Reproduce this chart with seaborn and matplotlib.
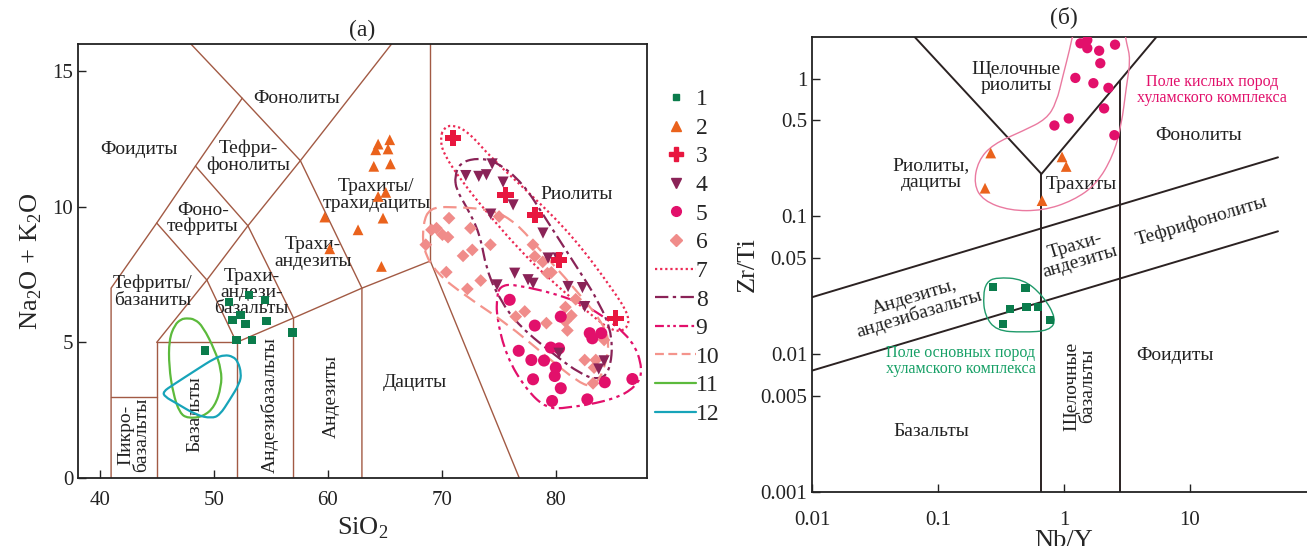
import numpy as np
import pandas as pd
import matplotlib
matplotlib.use('Agg')
import matplotlib.pyplot as plt
import seaborn as sns
from matplotlib.path import Path
from matplotlib.patches import PathPatch
from matplotlib.lines import Line2D

# ---------------- (а) TAS diagram data ----------------
g1_sio2 = [51.34, 53.07, 54.47, 51.64, 52.34, 52.78, 54.62, 56.90, 51.99, 53.36, 49.24]
g1_alk = [6.48, 6.75, 6.57, 5.83, 6.00, 5.67, 5.79, 5.36, 5.09, 5.10, 4.70]

g2_sio2 = [65.44, 64.42, 65.29, 64.21, 65.50, 64.04, 65.09, 64.42, 59.74, 64.85, 62.66, 60.18, 64.71]
g2_alk = [12.47, 12.31, 12.13, 12.10, 11.58, 11.49, 10.53, 10.38, 9.62, 9.58, 9.15, 8.45, 7.80]

g3_sio2 = [70.99, 75.61, 78.16, 80.29, 85.23]
g3_alk = [12.53, 10.44, 9.70, 8.04, 5.89]

g4_sio2 = [74.42, 72.11, 73.25, 73.92, 75.38, 76.26, 74.30, 78.88, 79.33, 80.20,
           76.40, 77.57, 78.01, 74.85, 81.08, 82.34, 82.54, 80.29, 84.24, 83.77]
g4_alk = [11.58, 11.15, 11.12, 11.18, 10.91, 10.07, 9.73, 9.03, 8.11, 8.11,
          7.55, 7.31, 7.18, 7.12, 7.06, 7.02, 6.32, 4.60, 4.32, 4.02]

g5_sio2 = [75.96, 78.16, 80.44, 82.98, 83.21, 84.00, 76.75, 79.56, 80.29, 77.86,
           78.97, 80.00, 79.91, 78.01, 84.30, 86.72, 80.44, 82.77, 79.68]
g5_alk = [6.57, 5.62, 5.95, 5.34, 5.15, 5.34, 4.69, 4.81, 4.78, 4.35,
          4.33, 4.07, 3.76, 3.64, 3.53, 3.65, 3.31, 2.90, 2.84]

g6_sio2 = [70.64, 69.10, 69.54, 70.06, 70.55, 68.60, 72.52, 72.68, 71.87, 74.27, 75.03,
           70.40, 73.42, 72.25, 78.00, 78.16, 78.86, 79.27, 79.62, 81.75, 80.85, 76.49,
           77.28, 81.37, 79.18, 80.85, 81.02, 84.24, 82.54, 83.51, 83.36, 83.27]
g6_alk = [9.58, 9.15, 9.21, 8.97, 8.88, 8.60, 9.21, 8.41, 8.19, 8.60, 9.64,
          7.59, 7.28, 6.97, 8.60, 8.17, 7.97, 7.55, 7.58, 6.59, 6.30, 5.95,
          6.14, 5.99, 5.71, 5.77, 5.44, 5.09, 4.35, 4.35, 4.07, 3.49]

# outlines 7-12 (outline vertices)
f7_sio2 = [70.11, 70.70, 72.17, 74.50, 78.01, 81.52, 85.03, 86.49, 86.20, 85.03, 83.27,
           79.18, 76.84, 74.50, 71.87, 70.11, 69.88]
f7_alk = [12.84, 13.03, 12.84, 11.73, 10.38, 8.90, 6.94, 5.95, 5.46, 5.40, 5.95,
          7.43, 8.41, 9.52, 10.87, 11.98, 12.53]
f8_sio2 = [71.14, 71.58, 73.04, 74.80, 77.13, 79.18, 81.81, 83.86, 85.03, 84.74, 83.57,
           82.11, 80.06, 76.84, 75.09, 73.92, 73.33, 72.16, 71.28]
f8_alk = [11.12, 11.61, 11.80, 11.67, 10.87, 9.52, 7.80, 6.45, 5.21, 3.86, 3.62,
          3.86, 4.48, 5.58, 6.57, 7.68, 9.03, 10.01, 10.63]
f9_sio2 = [75.09, 76.25, 80.94, 83.86, 86.78, 87.66, 87.08, 85.03, 80.94, 79.18, 77.43,
           75.67, 74.80, 74.85]
f9_alk = [7.06, 7.16, 6.69, 6.08, 5.09, 3.99, 3.37, 2.88, 2.57, 2.57, 3.25,
          4.48, 5.95, 6.69]
f10_sio2 = [68.95, 70.70, 74.50, 76.55, 78.60, 81.52, 84.15, 84.74, 84.15, 83.27, 82.11,
            79.18, 75.67, 72.16, 69.54, 68.36, 68.36]
f10_alk = [9.95, 10.01, 9.89, 9.40, 8.41, 7.06, 5.71, 4.97, 3.86, 3.37, 3.49,
           4.48, 5.71, 6.69, 7.55, 8.41, 9.40]
f11_sio2 = [47.61, 48.33, 49.06, 50.09, 50.67, 50.67, 50.09, 49.06, 47.74, 47.02, 46.43,
            46.08, 46.08, 46.58, 47.16]
f11_alk = [5.89, 5.86, 5.58, 4.72, 3.99, 3.37, 2.63, 2.26, 2.20, 2.39, 3.13,
           4.11, 5.09, 5.65, 5.86]
f12_sio2 = [50.96, 51.69, 52.13, 52.42, 52.28, 51.40, 50.53, 49.80, 48.48, 46.72, 45.70,
            45.55, 46.42, 48.48, 50.09]
f12_alk = [4.54, 4.48, 4.29, 3.86, 3.49, 2.88, 2.32, 2.20, 2.32, 2.76, 3.00,
           3.18, 3.43, 3.99, 4.42]

# TAS field boundaries
tas_lines = [
    [(41, 0), (41, 7), (45, 9.4), (48.4, 11.5), (52.5, 14), (48, 16)],
    [(41, 3), (45, 3)],
    [(45, 0), (45, 5), (52, 5), (52, 0)],
    [(45, 5), (49.4, 7.3), (45, 9.4)],
    [(49.4, 7.3), (52, 5)],
    [(49.4, 7.3), (53, 9.3), (48.4, 11.5)],
    [(53, 9.3), (57, 5.9), (57, 0)],
    [(52, 5), (57, 5.9), (63, 7), (69, 8)],
    [(53, 9.3), (57.6, 11.7), (52.5, 14)],
    [(57.6, 11.7), (63, 7), (63, 0)],
    [(57.6, 11.7), (65.6, 16)],
    [(69, 8), (69, 16)],
    [(69, 8), (76.8, 0)],
]
tas_labels = [
    ('Фонолиты', 57.25, 13.99, 0), ('Фоидиты', 43.45, 12.10, 0),
    ('Тефри-\nфонолиты', 53.0, 11.83, 0), ('Фоно-\nтефриты', 49.06, 9.57, 0),
    ('Трахиты/\nтрахидациты', 64.27, 10.44, 0), ('Трахи-\nандезиты', 58.71, 8.29, 0),
    ('Тефриты/\nбазаниты', 44.65, 6.87, 0), ('Трахи-\nандези-\nбазальты', 53.3, 6.84, 0),
    ('Пикро-\nбазальты', 43.0, 1.59, 90), ('Базальты', 48.33, 2.36, 90),
    ('Андезибазальты', 54.9, 2.69, 90), ('Андезиты', 60.3, 3.0, 90),
    ('Дациты', 67.63, 3.51, 0), ('Риолиты', 81.81, 10.44, 0),
]

# ---------------- (б) Zr/Ti vs Nb/Y data ----------------
r_circ_nby = [1.35, 1.53, 1.53, 1.90, 2.54, 1.94, 1.23, 1.71, 2.25, 2.08, 1.09, 0.839, 2.51]
r_circ_zrti = [1.80, 1.90, 1.66, 1.59, 1.76, 1.29, 1.01, 0.925, 0.855, 0.607, 0.513, 0.456, 0.388]
r_tri_nby = [0.262, 0.964, 1.04, 0.236, 0.669]
r_tri_zrti = [0.288, 0.270, 0.230, 0.160, 0.130]
r_sq_nby = [0.273, 0.494, 0.371, 0.503, 0.622, 0.770, 0.328]
r_sq_zrti = [0.0306, 0.0301, 0.0213, 0.0221, 0.0219, 0.0177, 0.0166]

acid_nby = [1.20, 3.00, 3.13, 3.37, 3.13, 2.85, 2.45, 1.81, 1.18, 0.681, 0.371, 0.228, 0.192,
            0.208, 0.273, 0.473, 0.725, 0.871, 0.98, 1.11]
acid_zrti = [2.3, 2.3, 1.82, 1.38, 0.883, 0.454, 0.275, 0.171, 0.130, 0.110, 0.110, 0.130,
             0.171, 0.253, 0.334, 0.417, 0.507, 0.670, 1.045, 1.63]
basic_nby = [0.290, 0.473, 0.681, 0.871, 0.770, 0.473, 0.290, 0.235, 0.228, 0.242]
basic_zrti = [0.0361, 0.0351, 0.0266, 0.0180, 0.0148, 0.0144, 0.0148, 0.0191, 0.0266, 0.0333]

wf_lines = [
    [(0.0653, 2.0), (0.662, 0.203), (5.41, 2.0)],
    [(0.662, 0.203), (0.662, 0.001)],
    [(2.77, 0.96), (2.77, 0.001)],
    [(0.01, 0.0259), (49.9, 0.268)],
    [(0.01, 0.0076), (49.9, 0.0779)],
]
wf_labels = [
    ('Щелочные\nриолиты', 0.419, 1.02, 0), ('Риолиты,\nдациты', 0.0887, 0.203, 0),
    ('Трахиты', 1.374, 0.169, 0), ('Фонолиты', 11.6, 0.388, 0),
    ('Тефрифонолиты', 12.3, 0.0929, 16.7), ('Трахи-\nандезиты', 1.285, 0.0533, 16.7),
    ('Андезиты,\nандезибазальты', 0.0674, 0.0225, 16.7),
    ('Щелочные\nбазальты', 1.332, 0.00585, 90), ('Базальты', 0.0887, 0.00275, 0),
    ('Фоидиты', 7.59, 0.00975, 0),
]

C_GREEN = '#0b7c4c'
C_ORANGE = '#ea621c'
C_RED = '#e8173f'
C_PURPLE = '#8a2357'
C_MAGENTA = '#e2106b'
C_SALMON = '#f08c8a'
C_BROWN = '#a25a44'


def smooth_outline(xs, ys, log=False):
    x = np.asarray(xs, float)
    y = np.asarray(ys, float)
    if log:
        x, y = np.log10(x), np.log10(y)
    mx = (x + np.roll(x, -1)) / 2
    my = (y + np.roll(y, -1)) / 2
    verts = [(mx[-1], my[-1])]
    codes = [Path.MOVETO]
    for i in range(len(x)):
        verts += [(x[i], y[i]), (mx[i], my[i])]
        codes += [Path.CURVE3, Path.CURVE3]
    verts = np.array(verts)
    if log:
        verts = 10 ** verts
    return Path(verts, codes)


def scatter(ax, xs, ys, marker, color, size):
    df = pd.DataFrame({'x': xs, 'y': ys})
    sns.scatterplot(data=df, x='x', y='y', marker=marker, color=color, s=size,
                    edgecolor='none', linewidth=0, ax=ax, legend=False, zorder=5)


sns.set_style('ticks')
plt.rcParams['font.family'] = ['Liberation Serif', 'DejaVu Serif']
plt.rcParams['mathtext.fontset'] = 'custom'
plt.rcParams['mathtext.rm'] = 'Liberation Serif'

fig = plt.figure(figsize=(13.07, 5.46), dpi=100)
ax1 = fig.add_axes([0.0597, 0.1245, 0.4353, 0.7949])
ax2 = fig.add_axes([0.6213, 0.0989, 0.3856, 0.8333])

# ---------- panel (а) ----------
for seg in tas_lines:
    xs, ys = zip(*seg)
    ax1.plot(xs, ys, color=C_BROWN, lw=1.0, zorder=1)
for txt, x, y, rot in tas_labels:
    ax1.text(x, y, txt, ha='center', va='center', rotation=rot, fontsize=14,
             linespacing=0.95, color='#222222', zorder=2)

outlines = [
    (f7_sio2, f7_alk, '#ec2a55', (0, (1, 1.3)), 1.6),
    (f8_sio2, f8_alk, C_PURPLE, (0, (6, 2, 1.5, 2)), 1.6),
    (f9_sio2, f9_alk, C_MAGENTA, (0, (6, 2, 1.5, 2, 1.5, 2)), 1.6),
    (f10_sio2, f10_alk, '#f4948c', (0, (6, 3)), 1.6),
    (f11_sio2, f11_alk, '#5cba3c', '-', 1.6),
    (f12_sio2, f12_alk, '#17a4b9', '-', 1.6),
]
for xs, ys, col, ls, lw in outlines:
    ax1.add_patch(PathPatch(smooth_outline(xs, ys), facecolor='none', edgecolor=col,
                            linestyle=ls, lw=lw, zorder=3))

scatter(ax1, g6_sio2, g6_alk, 'D', C_SALMON, 42)
scatter(ax1, g5_sio2, g5_alk, 'o', C_MAGENTA, 75)
scatter(ax1, g4_sio2, g4_alk, 'v', C_PURPLE, 65)
scatter(ax1, g3_sio2, g3_alk, 'P', C_RED, 140)
scatter(ax1, g2_sio2, g2_alk, '^', C_ORANGE, 60)
scatter(ax1, g1_sio2, g1_alk, 's', C_GREEN, 36)

ax1.set_xlim(38.1, 88.0)
ax1.set_ylim(0, 16)
ax1.set_xticks([40, 50, 60, 70, 80])
ax1.set_yticks([0, 5, 10, 15])
ax1.set_xlabel('SiO$_\\mathregular{2}$', fontsize=19, labelpad=4)
ax1.set_ylabel('Na$_\\mathregular{2}$O + K$_\\mathregular{2}$O', fontsize=19, labelpad=6)
ax1.set_title('(а)', fontsize=17, pad=6)

handles = [
    Line2D([], [], ls='none', marker='s', color=C_GREEN, ms=5),
    Line2D([], [], ls='none', marker='^', color=C_ORANGE, ms=7),
    Line2D([], [], ls='none', marker='P', color=C_RED, ms=10),
    Line2D([], [], ls='none', marker='v', color=C_PURPLE, ms=7),
    Line2D([], [], ls='none', marker='o', color=C_MAGENTA, ms=7),
    Line2D([], [], ls='none', marker='D', color=C_SALMON, ms=6),
    Line2D([], [], color='#ec2a55', ls=(0, (1, 1.3)), lw=1.6),
    Line2D([], [], color=C_PURPLE, ls=(0, (6, 2, 1.5, 2)), lw=1.6),
    Line2D([], [], color=C_MAGENTA, ls=(0, (4, 1.5, 1.2, 1.5, 1.2, 1.5)), lw=1.6),
    Line2D([], [], color='#f4948c', ls=(0, (4, 2)), lw=1.6),
    Line2D([], [], color='#5cba3c', lw=1.6),
    Line2D([], [], color='#17a4b9', lw=1.6),
]
labels = [str(i) for i in range(1, 13)]
ax1.legend(handles, labels, loc='upper left', bbox_to_anchor=(1.015, 0.897), frameon=False,
           fontsize=17, handlelength=1.7, handletextpad=0.0, labelspacing=0.3,
           borderaxespad=0, borderpad=0)

# ---------- panel (б) ----------
ax2.set_xscale('log')
ax2.set_yscale('log')
for seg in wf_lines:
    xs, ys = zip(*seg)
    ax2.plot(xs, ys, color='#2b2222', lw=1.4, zorder=1)
for txt, x, y, rot in wf_labels:
    ax2.text(x, y, txt, ha='center', va='center', rotation=rot, fontsize=14,
             linespacing=0.95, color='#222222', rotation_mode='anchor', zorder=2)
ax2.text(15.06, 0.823, 'Поле кислых пород\nхуламского комплекса', ha='center', va='center',
         fontsize=11.5, linespacing=1.0, color=C_MAGENTA)
ax2.text(0.151, 0.00894, 'Поле основных пород\nхуламского комплекса', ha='center', va='center',
         fontsize=11.5, linespacing=1.0, color='#17a066')

ax2.add_patch(PathPatch(smooth_outline(acid_nby, acid_zrti, log=True), facecolor='none',
                        edgecolor='#ea7aa0', lw=1.0, zorder=3))
ax2.add_patch(PathPatch(smooth_outline(basic_nby, basic_zrti, log=True), facecolor='none',
                        edgecolor='#1f9a6a', lw=1.0, zorder=3))

scatter(ax2, r_circ_nby, r_circ_zrti, 'o', C_MAGENTA, 55)
scatter(ax2, r_tri_nby, r_tri_zrti, '^', C_ORANGE, 60)
scatter(ax2, r_sq_nby, r_sq_zrti, 's', C_GREEN, 36)

ax2.set_xlim(0.01, 100)
ax2.set_ylim(0.001, 2.0)
ax2.minorticks_off()
ax2.set_xticks([0.01, 0.1, 1, 10])
ax2.set_xticklabels(['0.01', '0.1', '1', '10'])
ax2.set_yticks([0.001, 0.005, 0.01, 0.05, 0.1, 0.5, 1])
ax2.set_yticklabels(['0.001', '0.005', '0.01', '0.05', '0.1', '0.5', '1'])
ax2.set_xlabel('Nb/Y', fontsize=19, labelpad=0)
ax2.set_ylabel('Zr/Ti', fontsize=19, labelpad=1)
ax2.set_title('(б)', fontsize=17, pad=10)
ax2.spines['right'].set_visible(False)

for ax in (ax1, ax2):
    ax.tick_params(direction='in', length=6, width=1, labelsize=15, colors='#222222')
    for sp in ax.spines.values():
        sp.set_linewidth(1.3)
        sp.set_color('#222222')
ax1.tick_params(axis='x', pad=9)
ax2.tick_params(axis='x', pad=14)

fig.savefig('out.png', dpi=100)
